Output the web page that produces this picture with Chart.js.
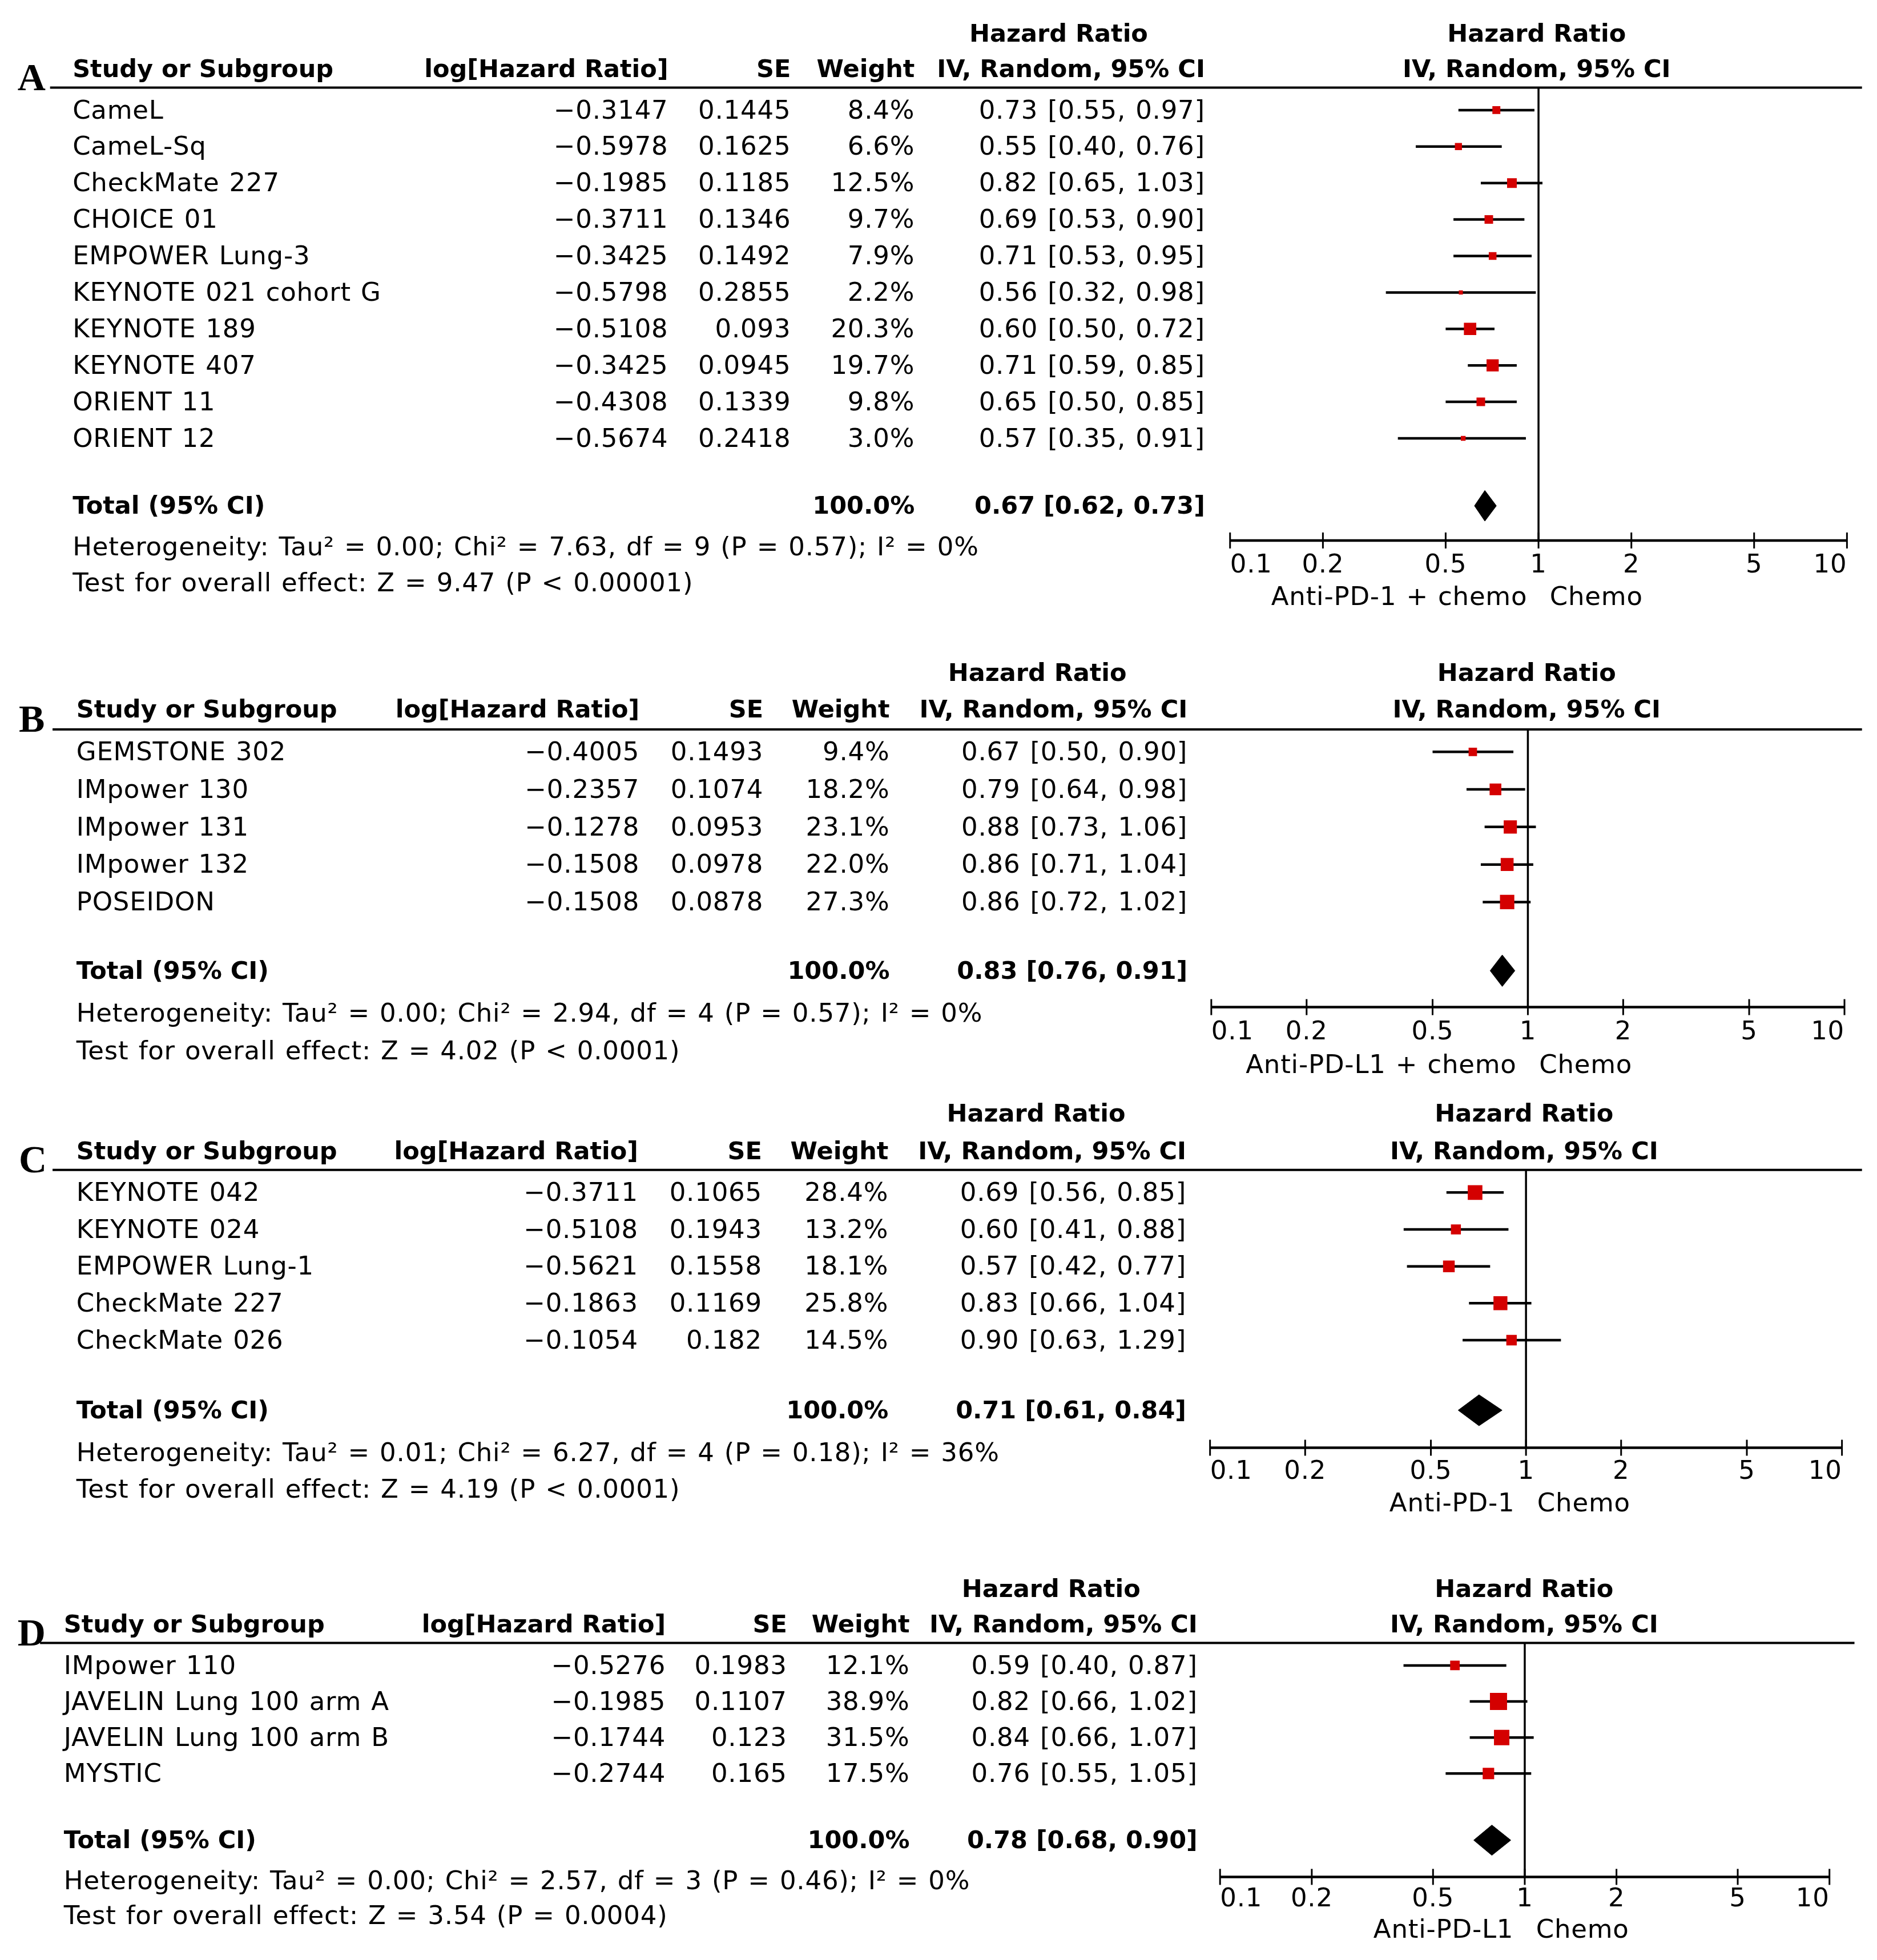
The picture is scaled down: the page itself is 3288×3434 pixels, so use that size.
<!DOCTYPE html>
<html>
<head>
<meta charset="utf-8">
<script src="https://cdn.jsdelivr.net/npm/chart.js@4.4.0/dist/chart.umd.min.js"></script>
<style>
html, body { margin: 0; padding: 0; background: #fff; }
#wrap { position: relative; width: 3288px; height: 3434px; background: #fff; }
#wrap canvas { position: absolute; left: 0; }
</style>
</head>
<body>
<div id="wrap">
  <canvas id="panelA"></canvas>
  <canvas id="panelB"></canvas>
  <canvas id="panelC"></canvas>
  <canvas id="panelD"></canvas>
</div>
<script>
// ---- data: panel A (anti-PD-1 + chemo vs chemo)
const studiesA = ['CameL', 'CameL-Sq', 'CheckMate 227', 'CHOICE 01', 'EMPOWER Lung-3', 'KEYNOTE 021 cohort G', 'KEYNOTE 189', 'KEYNOTE 407', 'ORIENT 11', 'ORIENT 12'];
const logHrA = [-0.3147, -0.5978, -0.1985, -0.3711, -0.3425, -0.5798, -0.5108, -0.3425, -0.4308, -0.5674];
const seA = [0.1445, 0.1625, 0.1185, 0.1346, 0.1492, 0.2855, 0.093, 0.0945, 0.1339, 0.2418];
const weightA = [8.4, 6.6, 12.5, 9.7, 7.9, 2.2, 20.3, 19.7, 9.8, 3.0];
const hrA = [0.73, 0.55, 0.82, 0.69, 0.71, 0.56, 0.60, 0.71, 0.65, 0.57];
const loA = [0.55, 0.40, 0.65, 0.53, 0.53, 0.32, 0.50, 0.59, 0.50, 0.35];
const hiA = [0.97, 0.76, 1.03, 0.90, 0.95, 0.98, 0.72, 0.85, 0.85, 0.91];
const totalA = [0.67, 0.62, 0.73];
const hetA = 'Heterogeneity: Tau\u00b2 = 0.00; Chi\u00b2 = 7.63, df = 9 (P = 0.57); I\u00b2 = 0%';
const testA = 'Test for overall effect: Z = 9.47 (P < 0.00001)';
const favA = ['Anti-PD-1 + chemo', 'Chemo'];

// ---- data: panel B (anti-PD-L1 + chemo vs chemo)
const studiesB = ['GEMSTONE 302', 'IMpower 130', 'IMpower 131', 'IMpower 132', 'POSEIDON'];
const logHrB = [-0.4005, -0.2357, -0.1278, -0.1508, -0.1508];
const seB = [0.1493, 0.1074, 0.0953, 0.0978, 0.0878];
const weightB = [9.4, 18.2, 23.1, 22.0, 27.3];
const hrB = [0.67, 0.79, 0.88, 0.86, 0.86];
const loB = [0.50, 0.64, 0.73, 0.71, 0.72];
const hiB = [0.90, 0.98, 1.06, 1.04, 1.02];
const totalB = [0.83, 0.76, 0.91];
const hetB = 'Heterogeneity: Tau\u00b2 = 0.00; Chi\u00b2 = 2.94, df = 4 (P = 0.57); I\u00b2 = 0%';
const testB = 'Test for overall effect: Z = 4.02 (P < 0.0001)';
const favB = ['Anti-PD-L1 + chemo', 'Chemo'];

// ---- data: panel C (anti-PD-1 vs chemo)
const studiesC = ['KEYNOTE 042', 'KEYNOTE 024', 'EMPOWER Lung-1', 'CheckMate 227', 'CheckMate 026'];
const logHrC = [-0.3711, -0.5108, -0.5621, -0.1863, -0.1054];
const seC = [0.1065, 0.1943, 0.1558, 0.1169, 0.182];
const weightC = [28.4, 13.2, 18.1, 25.8, 14.5];
const hrC = [0.69, 0.60, 0.57, 0.83, 0.90];
const loC = [0.56, 0.41, 0.42, 0.66, 0.63];
const hiC = [0.85, 0.88, 0.77, 1.04, 1.29];
const totalC = [0.71, 0.61, 0.84];
const hetC = 'Heterogeneity: Tau\u00b2 = 0.01; Chi\u00b2 = 6.27, df = 4 (P = 0.18); I\u00b2 = 36%';
const testC = 'Test for overall effect: Z = 4.19 (P < 0.0001)';
const favC = ['Anti-PD-1', 'Chemo'];

// ---- data: panel D (anti-PD-L1 vs chemo)
const studiesD = ['IMpower 110', 'JAVELIN Lung 100 arm A', 'JAVELIN Lung 100 arm B', 'MYSTIC'];
const logHrD = [-0.5276, -0.1985, -0.1744, -0.2744];
const seD = [0.1983, 0.1107, 0.123, 0.165];
const weightD = [12.1, 38.9, 31.5, 17.5];
const hrD = [0.59, 0.82, 0.84, 0.76];
const loD = [0.40, 0.66, 0.66, 0.55];
const hiD = [0.87, 1.02, 1.07, 1.05];
const totalD = [0.78, 0.68, 0.90];
const hetD = 'Heterogeneity: Tau\u00b2 = 0.00; Chi\u00b2 = 2.57, df = 3 (P = 0.46); I\u00b2 = 0%';
const testD = 'Test for overall effect: Z = 3.54 (P = 0.0004)';
const favD = ['Anti-PD-L1', 'Chemo'];

// axis ticks
const tickVals = [0.1, 0.2, 0.5, 1, 2, 5, 10];
const tickLabels = ['0.1', '0.2', '0.5', '1', '2', '5', '10'];

// ---- layout (positions in 1500-wide reference units, scaled by S)
const S = 3288 / 1500;
const RED = '#d40000';
const FONT = '"DejaVu Sans", Verdana, sans-serif';
const FS = 45;       // regular text size
const FSB = 43;      // bold text size
const DY = 3;        // nudge text down a little

const panels = [
  { id: 'panelA', letter: 'A', top: 0, bottom: 495,
    data: { studies: studiesA, logHr: logHrA, se: seA, weight: weightA, hr: hrA, lo: loA, hi: hiA, total: totalA, het: hetA, test: testA, fav: favA },
    h1Y: 27, h2Y: 55, ruleY: 70, ruleX0: 40, ruleX1: 1488, letterX: 14,
    studyX: 58, logX: 534, seX: 632, wX: 731, ciX: 963, ciHeadX: 846, plotHeadX: 1228,
    row0: 88, rowH: 29.15, totalIdx: 10.85, hetY: 437, testY: 466,
    x01: 983, x10: 1476, axisY: 432, tickY: 451, favY: 477 },
  { id: 'panelB', letter: 'B', top: 495, bottom: 868,
    data: { studies: studiesB, logHr: logHrB, se: seB, weight: weightB, hr: hrB, lo: loB, hi: hiB, total: totalB, het: hetB, test: testB, fav: favB },
    h1Y: 538, h2Y: 567, ruleY: 583, ruleX0: 42, ruleX1: 1488, letterX: 15,
    studyX: 61, logX: 511, seX: 610, wX: 711, ciX: 949, ciHeadX: 829, plotHeadX: 1220,
    row0: 601, rowH: 30, totalIdx: 5.83, hetY: 810, testY: 840,
    x01: 968, x10: 1474, axisY: 805, tickY: 824, favY: 851 },
  { id: 'panelC', letter: 'C', top: 868, bottom: 1222,
    data: { studies: studiesC, logHr: logHrC, se: seC, weight: weightC, hr: hrC, lo: loC, hi: hiC, total: totalC, het: hetC, test: testC, fav: favC },
    h1Y: 890, h2Y: 920, ruleY: 935, ruleX0: 42, ruleX1: 1488, letterX: 15,
    studyX: 61, logX: 510, seX: 609, wX: 710, ciX: 948, ciHeadX: 828, plotHeadX: 1218,
    row0: 953, rowH: 29.5, totalIdx: 5.9, hetY: 1161, testY: 1190,
    x01: 967, x10: 1472, axisY: 1157, tickY: 1175, favY: 1201 },
  { id: 'panelD', letter: 'D', top: 1222, bottom: 1566,
    data: { studies: studiesD, logHr: logHrD, se: seD, weight: weightD, hr: hrD, lo: loD, hi: hiD, total: totalD, het: hetD, test: testD, fav: favD },
    h1Y: 1270, h2Y: 1298, ruleY: 1313, ruleX0: 32, ruleX1: 1482, letterX: 14,
    studyX: 51, logX: 532, seX: 629, wX: 727, ciX: 957, ciHeadX: 840, plotHeadX: 1218,
    row0: 1331, rowH: 28.8, totalIdx: 4.85, hetY: 1503, testY: 1531,
    x01: 975, x10: 1462, axisY: 1500, tickY: 1517, favY: 1542 }
];

function fmtNum(v) { return String(v).replace('-', '\u2212'); }
function fmtCI(h, l, u) { return h.toFixed(2) + ' [' + l.toFixed(2) + ', ' + u.toFixed(2) + ']'; }

function text(ctx, str, x, y, align, bold) {
  ctx.font = bold ? ('bold ' + FSB + 'px ' + FONT) : (FS + 'px ' + FONT);
  // the original typeface runs a bit wider than DejaVu in regular weight
  ctx.letterSpacing = bold ? '0px' : '0.8px';
  ctx.wordSpacing = bold ? '0px' : '2px';
  ctx.textAlign = align;
  ctx.textBaseline = 'middle';
  ctx.fillStyle = '#000';
  ctx.fillText(str, x, y + DY);
}

// draws table text, rules and the axis of one panel
const forestPlugin = {
  id: 'forest',
  beforeDatasetsDraw(chart) {
    const L = chart.options.plugins.forest.layout;
    const ctx = chart.ctx;
    const xs = chart.scales.x;
    const area = chart.chartArea;
    const top = L.top * S;
    ctx.save();
    ctx.strokeStyle = '#000';
    // header rule
    ctx.lineWidth = 4;
    ctx.beginPath();
    ctx.moveTo(L.ruleX0 * S, area.top);
    ctx.lineTo(L.ruleX1 * S, area.top);
    ctx.stroke();
    // line of no effect
    ctx.lineWidth = 3.5;
    const x1 = xs.getPixelForValue(1);
    ctx.beginPath();
    ctx.moveTo(x1, area.top);
    ctx.lineTo(x1, area.bottom);
    ctx.stroke();
    // axis
    ctx.lineWidth = 4.5;
    ctx.beginPath();
    ctx.moveTo(xs.getPixelForValue(tickVals[0]), area.bottom);
    ctx.lineTo(xs.getPixelForValue(tickVals[tickVals.length - 1]), area.bottom);
    ctx.stroke();
    ctx.lineWidth = 3;
    tickVals.forEach((v, i) => {
      const px = xs.getPixelForValue(v);
      ctx.beginPath();
      ctx.moveTo(px, area.bottom - 14);
      ctx.lineTo(px, area.bottom + 14);
      ctx.stroke();
      const align = i === 0 ? 'left' : (i === tickVals.length - 1 ? 'right' : 'center');
      text(ctx, tickLabels[i], px, L.tickY * S - top, align, false);
    });
    // favours labels
    text(ctx, L.data.fav[0], x1 - 9 * S, L.favY * S - top, 'right', false);
    text(ctx, L.data.fav[1], x1 + 9 * S, L.favY * S - top, 'left', false);
    ctx.restore();
  },
  afterDraw(chart) {
    const L = chart.options.plugins.forest.layout;
    const d = L.data;
    const ctx = chart.ctx;
    const ys = chart.scales.y;
    const top = L.top * S;
    ctx.save();
    // panel letter
    ctx.font = 'bold 68px "Liberation Serif", "Times New Roman", serif';
    ctx.letterSpacing = '0px';
    ctx.textAlign = 'left';
    ctx.textBaseline = 'alphabetic';
    ctx.fillStyle = '#000';
    ctx.fillText(L.letter, L.letterX * S, (L.ruleY + 2) * S - top);
    // headers
    const h1 = L.h1Y * S - top, h2 = L.h2Y * S - top;
    text(ctx, 'Hazard Ratio', L.ciHeadX * S, h1, 'center', true);
    text(ctx, 'Hazard Ratio', L.plotHeadX * S, h1, 'center', true);
    text(ctx, 'Study or Subgroup', L.studyX * S, h2, 'left', true);
    text(ctx, 'log[Hazard Ratio]', L.logX * S, h2, 'right', true);
    text(ctx, 'SE', L.seX * S, h2, 'right', true);
    text(ctx, 'Weight', L.wX * S, h2, 'right', true);
    text(ctx, 'IV, Random, 95% CI', L.ciX * S, h2, 'right', true);
    text(ctx, 'IV, Random, 95% CI', L.plotHeadX * S, h2, 'center', true);
    // study rows
    d.studies.forEach((s, i) => {
      const y = ys.getPixelForValue(i);
      text(ctx, s, L.studyX * S, y, 'left', false);
      text(ctx, fmtNum(d.logHr[i]), L.logX * S, y, 'right', false);
      text(ctx, fmtNum(d.se[i]), L.seX * S, y, 'right', false);
      text(ctx, d.weight[i].toFixed(1) + '%', L.wX * S, y, 'right', false);
      text(ctx, fmtCI(d.hr[i], d.lo[i], d.hi[i]), L.ciX * S, y, 'right', false);
    });
    // total row
    const ty = ys.getPixelForValue(L.totalIdx);
    text(ctx, 'Total (95% CI)', L.studyX * S, ty, 'left', true);
    text(ctx, '100.0%', L.wX * S, ty, 'right', true);
    text(ctx, fmtCI(d.total[0], d.total[1], d.total[2]), L.ciX * S, ty, 'right', true);
    text(ctx, d.het, L.studyX * S, L.hetY * S - top, 'left', false);
    text(ctx, d.test, L.studyX * S, L.testY * S - top, 'left', false);
    ctx.restore();
  }
};

function makePanel(L) {
  const d = L.data;
  const canvas = document.getElementById(L.id);
  const W = 3288;
  const H = Math.round((L.bottom - L.top) * S);
  canvas.width = W;
  canvas.height = H;
  canvas.style.top = Math.round(L.top * S) + 'px';

  const datasets = [];
  // confidence intervals
  d.studies.forEach((s, i) => {
    datasets.push({
      label: s,
      data: [{ x: d.lo[i], y: i }, { x: d.hi[i], y: i }],
      borderColor: '#000',
      borderWidth: 4.5,
      pointRadius: 0,
      fill: false,
      order: 3
    });
  });
  // study estimates, box size by weight
  datasets.push({
    label: 'estimate',
    data: d.hr.map((v, i) => ({ x: v, y: i })),
    showLine: false,
    pointStyle: 'rect',
    pointRadius: c => 3.4 * Math.sqrt(d.weight[c.dataIndex]),
    pointBackgroundColor: RED,
    pointBorderWidth: 0,
    order: 1
  });
  // pooled estimate diamond (upper edge filled to lower edge)
  const t = L.totalIdx, half = 0.42;
  datasets.push({
    label: 'total upper',
    data: [{ x: d.total[1], y: t }, { x: d.total[0], y: t - half }, { x: d.total[2], y: t }],
    borderColor: '#000', borderWidth: 1, pointRadius: 0,
    backgroundColor: '#000', fill: '+1', order: 0
  });
  datasets.push({
    label: 'total lower',
    data: [{ x: d.total[1], y: t }, { x: d.total[0], y: t + half }, { x: d.total[2], y: t }],
    borderColor: '#000', borderWidth: 1, pointRadius: 0,
    fill: false, order: 0
  });

  return new Chart(canvas.getContext('2d'), {
    type: 'line',
    data: { datasets: datasets },
    options: {
      responsive: false,
      animation: false,
      devicePixelRatio: 1,
      events: [],
      layout: {
        padding: {
          left: L.x01 * S,
          right: W - L.x10 * S,
          top: (L.ruleY - L.top) * S,
          bottom: H - (L.axisY - L.top) * S
        }
      },
      scales: {
        x: { type: 'logarithmic', min: 0.1, max: 10, display: false },
        y: { type: 'linear', reverse: true,
             min: (L.ruleY - L.row0) / L.rowH,
             max: (L.axisY - L.row0) / L.rowH,
             display: false }
      },
      plugins: {
        legend: { display: false },
        tooltip: { enabled: false },
        forest: { layout: L }
      }
    },
    plugins: [forestPlugin]
  });
}

panels.forEach(makePanel);
</script>
</body>
</html>
